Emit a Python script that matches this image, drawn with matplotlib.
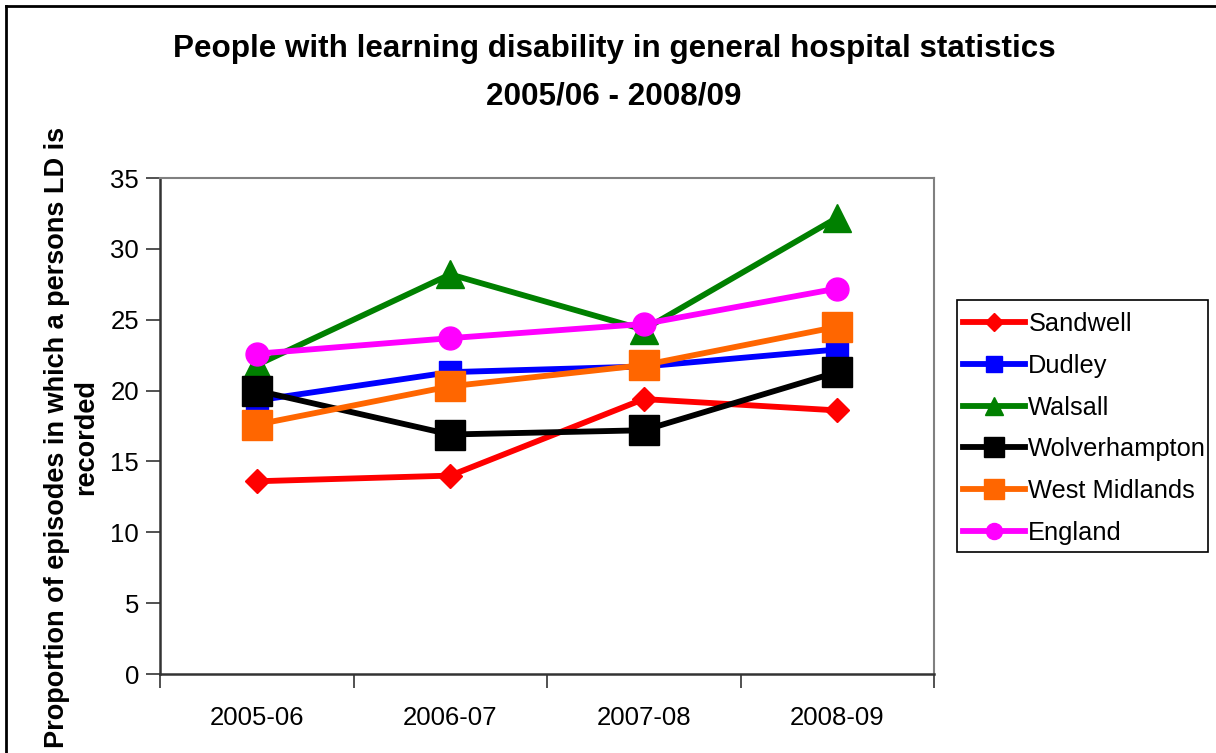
import matplotlib
matplotlib.use("Agg")
import matplotlib.pyplot as plt
from matplotlib.lines import Line2D
from matplotlib.patches import Rectangle

plt.rcParams['font.family'] = ['Liberation Sans', 'DejaVu Sans']

years = ["2005-06", "2006-07", "2007-08", "2008-09"]
sandwell = [13.6, 14.0, 19.4, 18.6]
dudley = [19.3, 21.3, 21.7, 22.9]
walsall = [21.8, 28.2, 24.3, 32.2]
wolverhampton = [20.0, 16.9, 17.2, 21.3]
west_midlands = [17.6, 20.3, 21.8, 24.5]
england = [22.6, 23.7, 24.7, 27.2]

y_ticks = [0, 5, 10, 15, 20, 25, 30, 35]

series = [
    ("Sandwell", sandwell, "#FF0000", "D", 12.5),
    ("Dudley", dudley, "#0000FF", "s", 16.5),
    ("Walsall", walsall, "#008000", "^", 19.5),
    ("Wolverhampton", wolverhampton, "#000000", "s", 21),
    ("West Midlands", west_midlands, "#FF6600", "s", 21),
    ("England", england, "#FF00FF", "o", 16.5),
]

fig = plt.figure(figsize=(12.16, 7.53), dpi=100)
ax = fig.add_axes([160 / 1216, 1 - 674 / 753, (934 - 160) / 1216, (674 - 178) / 753])

x = list(range(len(years)))
for name, vals, color, marker, ms in series:
    ax.plot(x, vals, color=color, lw=4.2, marker=marker, markersize=ms,
            markerfacecolor=color, markeredgecolor=color, markeredgewidth=1,
            label=name, solid_joinstyle='miter')

ax.set_xlim(-0.5, 3.5)
ax.set_ylim(0, 35)
ax.set_yticks(y_ticks)
ax.set_yticklabels([str(v) for v in y_ticks])
ax.set_xticks([-0.5, 0.5, 1.5, 2.5, 3.5])
ax.set_xticklabels([])
ax.set_xticks(x, minor=True)
ax.set_xticklabels(years, minor=True)
ax.tick_params(axis='x', which='minor', length=0, pad=23, labelsize=18.5)
ax.tick_params(axis='x', which='major', direction='out', length=10, width=1.2, color='#333333')
ax.tick_params(axis='y', direction='out', length=10, width=1.2, color='#333333', labelsize=18.5, pad=5)

for side in ('top', 'right'):
    ax.spines[side].set_color('#808080')
    ax.spines[side].set_linewidth(1.5)
for side in ('left', 'bottom'):
    ax.spines[side].set_color('#333333')
    ax.spines[side].set_linewidth(1.8)

# legend entries placed inside a hand-drawn frame
leg = ax.legend(loc='upper left', bbox_to_anchor=(963 / 1216, 1 - 312 / 753),
                bbox_transform=fig.transFigure, borderaxespad=0, borderpad=0,
                fontsize=18.3, frameon=False,
                handlelength=2.45, handletextpad=0.12, labelspacing=0.70,
                markerscale=0.7)
fig.add_artist(Rectangle((957 / 1216, 1 - 552 / 753), (1208 - 957) / 1216, (552 - 300) / 753,
                         transform=fig.transFigure, fill=False, edgecolor='black', lw=1.2))

fig.text(614 / 1216, 1 - 72.5 / 753,
         "People with learning disability in general hospital statistics\n2005/06 - 2008/09",
         ha='center', va='center', fontsize=22.6, fontweight='bold', linespacing=1.75)

fig.text(72 / 1216, 1 - 437 / 753,
         "Proportion of episodes in which a persons LD is\nrecorded",
         ha='center', va='center', rotation=90, fontsize=19.5, fontweight='bold',
         multialignment='center', linespacing=1.15)

# outer chart frame
fig.add_artist(Line2D([6 / 1216, 6 / 1216], [0, 1 - 6 / 753], color='black', lw=2,
                      transform=fig.transFigure))
fig.add_artist(Line2D([6 / 1216, 1], [1 - 6 / 753, 1 - 6 / 753], color='black', lw=2,
                      transform=fig.transFigure))

fig.savefig("out.png", dpi=100)
